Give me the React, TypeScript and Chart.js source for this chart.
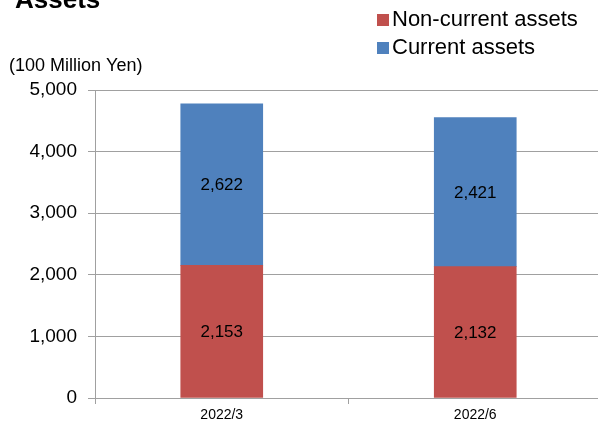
import React, { useEffect, useRef } from "react";
import { Chart, registerables } from "chart.js";

Chart.register(...registerables);

const categories = ["2022/3", "2022/6"];
const nonCurrentAssets = [2153, 2132];
const currentAssets = [2622, 2421];
const yTicks = [0, 1000, 2000, 3000, 4000, 5000];
const titleText = "Assets";
const unitText = "(100 Million Yen)";
const seriesNames = ["Non-current assets", "Current assets"];

const RED = "#C0504D";
const BLUE = "#4F81BD";
const GRID = "#a0a0a0";
const FONT = "'Liberation Sans', Arial, sans-serif";

const fmt = (v: number) => v.toLocaleString("en-US");

const overlayPlugin = {
  id: "overlay",
  afterDatasetsDraw(chart: any) {
    const ctx = chart.ctx;
    ctx.save();
    // data labels
    ctx.fillStyle = "#000";
    ctx.font = `17px ${FONT}`;
    ctx.textAlign = "center";
    ctx.textBaseline = "middle";
    chart.data.datasets.forEach((ds: any, di: number) => {
      const meta = chart.getDatasetMeta(di);
      meta.data.forEach((bar: any, i: number) => {
        const { x, y, base } = bar.getProps(["x", "y", "base"], true);
        ctx.fillText(fmt(ds.data[i]), x, (y + base) / 2 + 1);
      });
    });
    // title
    ctx.font = `bold 26px ${FONT}`;
    ctx.textAlign = "left";
    ctx.textBaseline = "alphabetic";
    ctx.fillText(titleText, 15, 8);
    // unit
    ctx.font = `18px ${FONT}`;
    ctx.textBaseline = "middle";
    ctx.fillText(unitText, 9, 66);
    // legend
    const items = [
      { name: seriesNames[0], color: RED, y: 20 },
      { name: seriesNames[1], color: BLUE, y: 48 },
    ];
    ctx.font = `22px ${FONT}`;
    items.forEach((it) => {
      ctx.fillStyle = it.color;
      ctx.fillRect(377, it.y - 6, 12, 12);
      ctx.fillStyle = "#000";
      ctx.fillText(it.name, 392, it.y);
    });
    ctx.restore();
  },
};

export default function App() {
  const ref = useRef<HTMLCanvasElement | null>(null);
  useEffect(() => {
    if (!ref.current) return;
    const chart = new Chart(ref.current, {
      type: "bar",
      data: {
        labels: categories,
        datasets: [
          { label: seriesNames[0], data: nonCurrentAssets, backgroundColor: RED, barThickness: 82 },
          { label: seriesNames[1], data: currentAssets, backgroundColor: BLUE, barThickness: 82 },
        ],
      },
      options: {
        animation: false,
        responsive: false,
        devicePixelRatio: 1,
        layout: { padding: { top: 90, left: 0, right: 1, bottom: 0 } },
        plugins: { legend: { display: false }, tooltip: { enabled: false }, title: { display: false } },
        scales: {
          x: {
            stacked: true,
            afterFit: (s: any) => { s.height = 23; },
            grid: { offset: true, drawOnChartArea: false, color: GRID, tickLength: 6, lineWidth: 1 },
            border: { color: GRID, width: 1 },
            ticks: { color: "#000", font: { family: FONT, size: 14 }, padding: 3 },
          },
          y: {
            stacked: true,
            min: 0,
            max: 5000,
            afterFit: (s: any) => { s.width = 95; },
            afterBuildTicks: (s: any) => { s.ticks = yTicks.map((v) => ({ value: v })); },
            grid: { color: GRID, tickLength: 7, lineWidth: 1 },
            border: { color: GRID, width: 1 },
            ticks: { color: "#000", font: { family: FONT, size: 19 }, padding: 11, callback: (v: any) => fmt(Number(v)) },
          },
        },
      },
      plugins: [overlayPlugin],
    });
    return () => chart.destroy();
  }, []);
  return (
    <div style={{ position: "fixed", left: 0, top: 0, width: 598, height: 421, overflow: "hidden", background: "#fff" }}>
      <canvas ref={ref} width={603} height={421} style={{ display: "block" }} />
    </div>
  );
}
